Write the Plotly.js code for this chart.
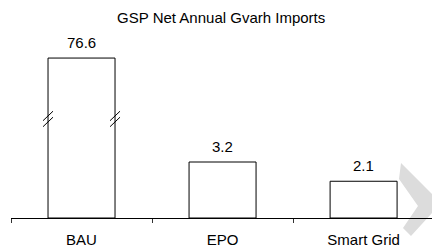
<!DOCTYPE html>
<html>
<head>
<meta charset="utf-8">
<script src="https://cdn.plot.ly/plotly-3.0.1.min.js"></script>
<style>html,body{margin:0;padding:0;background:#fff;}#chart{width:432px;height:248px;}</style>
</head>
<body>
<div id="chart"></div>
<script>
// Data
const categories = ["BAU", "EPO", "Smart Grid"];
const values = [76.6, 3.2, 2.1];
const valueLabels = ["76.6", "3.2", "2.1"];
const chartTitle = "GSP Net Annual Gvarh Imports";

// Broken-axis display: values above the cap are drawn at the cap level
const breakCap = 9.14;
const breakLevel = 5.66;
const displayValues = values.map(v => Math.min(v, breakCap));

const barWidth = 0.475;
const font = {family: "Liberation Sans, Arial, sans-serif", size: 15, color: "#000"};

const annotations = categories.map((c, i) => ({
  x: c, y: displayValues[i], xref: "x", yref: "y",
  text: valueLabels[i], showarrow: false, yanchor: "bottom", yshift: 5,
  font: font
}));

// Break marks on broken bars
const shapes = [];
values.forEach((v, i) => {
  if (v > breakCap) {
    [i - barWidth / 2, i + barWidth / 2].forEach(xe => {
      [[-1.75, 7.75], [-7.75, 1.75]].forEach(([ya, yb]) => {
        shapes.push({
          type: "line", xref: "x", yref: "y",
          xsizemode: "pixel", ysizemode: "pixel",
          xanchor: xe, yanchor: breakLevel,
          x0: -5, x1: 5, y0: ya, y1: yb,
          line: {color: "#000", width: 1}
        });
      });
    });
  }
});

// Light gray chevron watermark (pixel -> paper)
const L = 11, T = 50, PW = 421, PH = 168;
const chevPx = [[401,163],[441,203],[411,236],[403,228],[418,206],[399,179]];
const chevPath = chevPx.map((p, k) =>
  (k ? "L" : "M") + ((p[0]-L)/PW).toFixed(4) + "," + ((T+PH-p[1])/PH).toFixed(4)).join(" ") + " Z";
shapes.push({type: "path", xref: "paper", yref: "paper", path: chevPath,
  fillcolor: "#dcdcdc", line: {width: 0}, layer: "below"});

const trace = {
  type: "bar",
  x: categories,
  y: displayValues,
  width: barWidth,
  marker: {color: "#ffffff", line: {color: "#000", width: 1}},
  hoverinfo: "none"
};

const layout = {
  width: 432, height: 248,
  margin: {l: L, r: 0, t: T, b: 30, pad: 0},
  paper_bgcolor: "#fff", plot_bgcolor: "rgba(0,0,0,0)",
  font: font,
  title: {text: chartTitle, font: font, x: 0.512, xanchor: "center", y: 0.93, yanchor: "middle", yref: "container"},
  showlegend: false,
  xaxis: {
    type: "category", range: [-0.5, 2.485], fixedrange: true,
    showline: true, linecolor: "#000", linewidth: 1,
    ticks: "outside", tickson: "boundaries", ticklen: 4, tickcolor: "#333", tickwidth: 1,
    ticklabelstandoff: 8,
    showgrid: false, zeroline: false, tickfont: font
  },
  yaxis: {visible: false, range: [0, 9.6], fixedrange: true, showgrid: false, zeroline: false},
  annotations: annotations,
  shapes: shapes
};

Plotly.newPlot("chart", [trace], layout, {staticPlot: true, displayModeBar: false});
</script>
</body>
</html>
